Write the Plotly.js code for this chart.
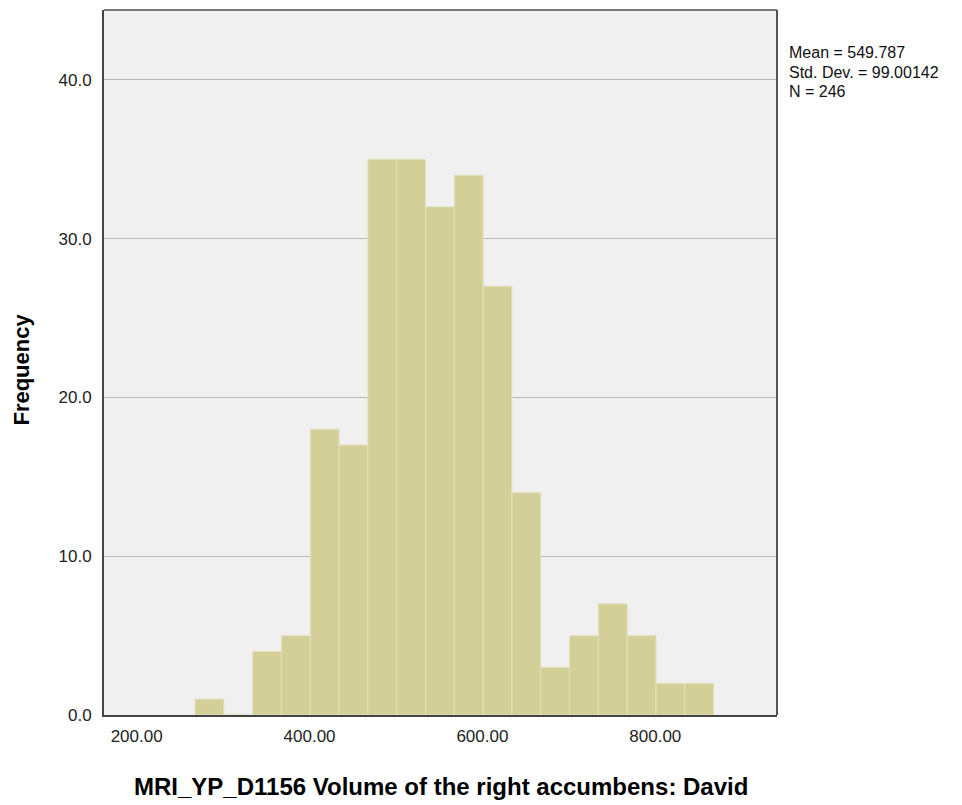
<!DOCTYPE html>
<html>
<head>
<meta charset="utf-8">
<script src="https://cdn.plot.ly/plotly-3.0.1.min.js"></script>
<style>body{margin:0;background:#fff;} #chart{width:962px;height:805px;}</style>
</head>
<body>
<div id="chart"></div>
<script>
// Histogram data (bin start, bin width, counts per bin)
const binStart = 267.5;
const binWidth = 33.333;
const counts = [1, 0, 4, 5, 18, 17, 35, 35, 32, 34, 27, 14, 3, 5, 7, 5, 2, 2];
const xTickVals = [200, 400, 600, 800];
const xTickText = ["200.00", "400.00", "600.00", "800.00"];
const yTickVals = [0, 10, 20, 30, 40];
const yTickText = ["0.0", "10.0", "20.0", "30.0", "40.0"];
const statsLines = ["Mean = 549.787", "Std. Dev. = 99.00142", "N = 246"];
const xTitle = "MRI_YP_D1156 Volume of the right accumbens: David";
const yTitle = "Frequency";

const centers = counts.map((c, i) => binStart + binWidth * (i + 0.5));
const FONT = 'Liberation Sans, Arial, sans-serif';

const trace = {
  type: 'bar',
  x: centers,
  y: counts,
  width: counts.map(() => binWidth),
  marker: { color: '#d3cf99', line: { color: '#e4e1bd', width: 1 } },
  hoverinfo: 'x+y'
};

const statAnn = statsLines.map((s, i) => ({
  text: s, xref: 'paper', yref: 'paper', x: 1, xshift: 10, y: 1, yshift: -42.5 - 19.5 * i,
  xanchor: 'left', yanchor: 'middle', align: 'left', showarrow: false,
  font: { size: 16, color: '#111', family: FONT }
}));

const layout = {
  width: 962, height: 805,
  margin: { l: 104, r: 185, t: 10, b: 90 },
  paper_bgcolor: '#ffffff',
  plot_bgcolor: '#f0f0f0',
  showlegend: false,
  bargap: 0,
  font: { family: FONT, size: 17, color: '#222' },
  xaxis: {
    range: [162.2, 940.8],
    tickvals: xTickVals, ticktext: xTickText,
    showgrid: false, zeroline: false,
    ticks: '', ticklen: 0, ticklabelstandoff: 5,
    showline: true, linecolor: '#444', linewidth: 2, mirror: false,
    tickfont: { size: 17, color: '#222' }
  },
  yaxis: {
    range: [0, 44.4],
    tickvals: yTickVals, ticktext: yTickText,
    showgrid: true, gridcolor: '#b9b9b9', gridwidth: 1,
    zeroline: false, ticks: '', ticklabelstandoff: 7,
    showline: true, linecolor: '#444', linewidth: 2,
    tickfont: { size: 17, color: '#222' }
  },
  shapes: [
    { type: 'line', xref: 'paper', yref: 'paper', x0: 0, x1: 1, y0: 1, y1: 1, line: { color: '#777', width: 2 } },
    { type: 'line', xref: 'paper', yref: 'paper', x0: 1, x1: 1, y0: 0, y1: 1, line: { color: '#555', width: 2 } }
  ],
  annotations: [
    { text: '<b>' + xTitle + '</b>', xref: 'paper', yref: 'paper', x: 0.5, y: 0, yshift: -71,
      xanchor: 'center', yanchor: 'middle', showarrow: false,
      font: { size: 24, color: '#000', family: FONT } },
    { text: '<b>' + yTitle + '</b>', xref: 'paper', yref: 'paper', x: 0, xshift: -82, y: 0.49,
      xanchor: 'center', yanchor: 'middle', textangle: -90, showarrow: false,
      font: { size: 22, color: '#000', family: FONT } }
  ].concat(statAnn)
};

Plotly.newPlot('chart', [trace], layout, { displayModeBar: false, staticPlot: true });
</script>
</body>
</html>
